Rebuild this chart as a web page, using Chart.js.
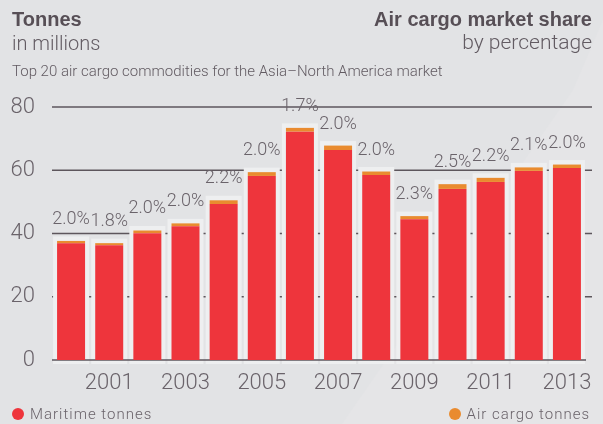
<html>
<head>
<meta http-equiv="Content-Type" content="text/html; charset=utf-8"/>
<title>Air cargo market share</title>
<style>
    body { margin:0; background:#e2e3e5; font-family:"Liberation Sans", Arial, sans-serif; color:#574f56; }
    #wrap { position:relative; width:603px; height:424px; overflow:hidden; }
    #czart { position:absolute; left:0; top:0; }
    .t { position:absolute; white-space:nowrap; }
    .b { font-weight:bold; font-size:20px; }
    .r { font-family:Roboto, "Liberation Sans", sans-serif; font-size:21px; font-weight:300; color:#625b62; }
    .leg { position:absolute; top:405px; font-family:Roboto, "Liberation Sans", sans-serif; font-weight:300; font-size:15px; letter-spacing:1px; color:#6a636a; white-space:nowrap; }
    .dot { display:inline-block; width:12px; height:12px; border-radius:6px; vertical-align:-1px; margin-right:6px; }
</style>
</head>
<body>
<div id="wrap">
    <canvas id="czart" width="603" height="424"></canvas>
    <div class="t b" style="left:12px; top:8px">Tonnes</div>
    <div class="t r" style="left:12px; top:31px; font-size:20px">in millions</div>
    <div class="t b" style="right:11px; top:8px">Air cargo market share</div>
    <div class="t r" style="right:11px; top:30px">by percentage</div>
    <div class="t" style="left:12px; top:62px; font-family:Roboto, 'Liberation Sans', sans-serif; font-weight:300; font-size:15px; color:#625b62">Top 20 air cargo commodities for the Asia–North America market</div>
    <div class="leg" style="left:12px"><span class="dot" style="background:#ee353c"></span>Maritime tonnes</div>
    <div class="leg" style="right:13px"><span class="dot" style="background:#e98b2f"></span>Air cargo tonnes</div>
</div>

<script src="https://cdn.jsdelivr.net/npm/chart.js@4"></script>
<script type="text/javascript">

// dane (mln ton)
var lata = ["2000","2001","2002","2003","2004","2005","2006","2007","2008","2009","2010","2011","2012","2013"];
var morskie = [36.9, 36.3, 40.1, 42.3, 49.3, 58.2, 72.2, 66.4, 58.5, 44.5, 54.1, 56.3, 59.8, 60.7];
var lotnicze = [0.75, 0.65, 0.85, 0.9, 1.2, 1.2, 1.2, 1.4, 1.1, 1.0, 1.5, 1.3, 1.1, 1.1];
var udzial = ["2.0%","1.8%","2.0%","2.0%","2.2%","2.0%","1.7%","2.0%","2.0%","2.3%","2.5%","2.2%","2.1%","2.0%"];
var yTicks = [0, 20, 40, 60, 80];

var SZARY = "#6a636a";
var LINIA = "#5d565c";
var LEKKI = "Roboto, 'Liberation Sans', Arial, sans-serif";

var tlo = {
    id: "tlo",
    beforeDraw: function(chart) {
        var ctx = chart.ctx;
        ctx.save();
        ctx.fillStyle = "#e2e3e5";
        ctx.fillRect(0, 0, chart.width, chart.height);
        ctx.fillStyle = "#e5e5e7";
        ctx.beginPath();
        ctx.moveTo(603, 20);
        ctx.lineTo(573, 90);
        ctx.lineTo(342, 424);
        ctx.lineTo(603, 424);
        ctx.closePath();
        ctx.fill();
        ctx.restore();
    }
};

var siatka = {
    id: "siatka",
    beforeDatasetsDraw: function(chart) {
        var ctx = chart.ctx;
        var ys = chart.scales.y;
        var a = chart.chartArea;
        ctx.save();
        ctx.strokeStyle = LINIA;
        ctx.lineWidth = 1.5;
        for (var i = 1; i < yTicks.length; ++i) {
            var py = ys.getPixelForValue(yTicks[i]);
            ctx.beginPath();
            ctx.moveTo(a.left, py);
            ctx.lineTo(a.right + 6, py);
            ctx.stroke();
        }
        // jasne obwódki wokol slupkow
        var top = chart.getDatasetMeta(1).data;
        var base = ys.getPixelForValue(0);
        ctx.fillStyle = "#eeeff0";
        for (var i = 0; i < top.length; ++i) {
            var el = top[i];
            var w = el.width + 8;
            ctx.fillRect(el.x - w / 2, el.y - 4.5, w, base + 4 - (el.y - 4.5));
        }
        ctx.strokeStyle = LINIA;
        ctx.beginPath();
        ctx.moveTo(a.left, base);
        ctx.lineTo(a.right, base);
        ctx.stroke();
        ctx.restore();
    },
    afterDatasetsDraw: function(chart) {
        var ctx = chart.ctx;
        var top = chart.getDatasetMeta(1).data;
        ctx.save();
        ctx.fillStyle = SZARY;
        ctx.font = "300 18px " + LEKKI;
        ctx.textAlign = "center";
        ctx.textBaseline = "alphabetic";
        for (var i = 0; i < top.length; ++i) {
            ctx.fillText(udzial[i], top[i].x, top[i].y - 17);
        }
        ctx.restore();
    }
};

var ctx = document.getElementById("czart").getContext("2d");
var myChart = new Chart(ctx, {
    type: "bar",
    data: {
        labels: lata,
        datasets: [{
            label: "Maritime tonnes",
            data: morskie,
            backgroundColor: "#ee353c",
            borderWidth: 0
        },
        {
            label: "Air cargo tonnes",
            data: lotnicze,
            backgroundColor: "#e98b2f",
            borderWidth: 0
        }]
    },
    options: {
        responsive: false,
        animation: false,
        events: [],
        categoryPercentage: 1,
        barPercentage: 0.734,
        layout: { padding: { top: 107, right: 17, left: 0, bottom: 0 } },
        plugins: {
            legend: { display: false },
            title: { display: false },
            tooltip: { enabled: false }
        },
        scales: {
            x: {
                stacked: true,
                grid: { display: false, drawTicks: false },
                border: { display: false },
                ticks: {
                    autoSkip: false,
                    maxRotation: 0,
                    padding: 10,
                    color: SZARY,
                    font: { family: LEKKI, size: 22, weight: 300 },
                    callback: function(v, i) { return (i % 2 == 1) ? lata[i] : ""; }
                },
                afterFit: function(s) { s.height = 64; }
            },
            y: {
                stacked: true,
                min: 0,
                max: 80,
                grid: { display: false, drawTicks: false },
                border: { display: false },
                ticks: {
                    stepSize: 20,
                    padding: 17,
                    color: SZARY,
                    font: { family: LEKKI, size: 22, weight: 300 }
                },
                afterFit: function(s) { s.width = 52; }
            }
        }
    },
    plugins: [tlo, siatka]
});

</script>
</body>
</html>
